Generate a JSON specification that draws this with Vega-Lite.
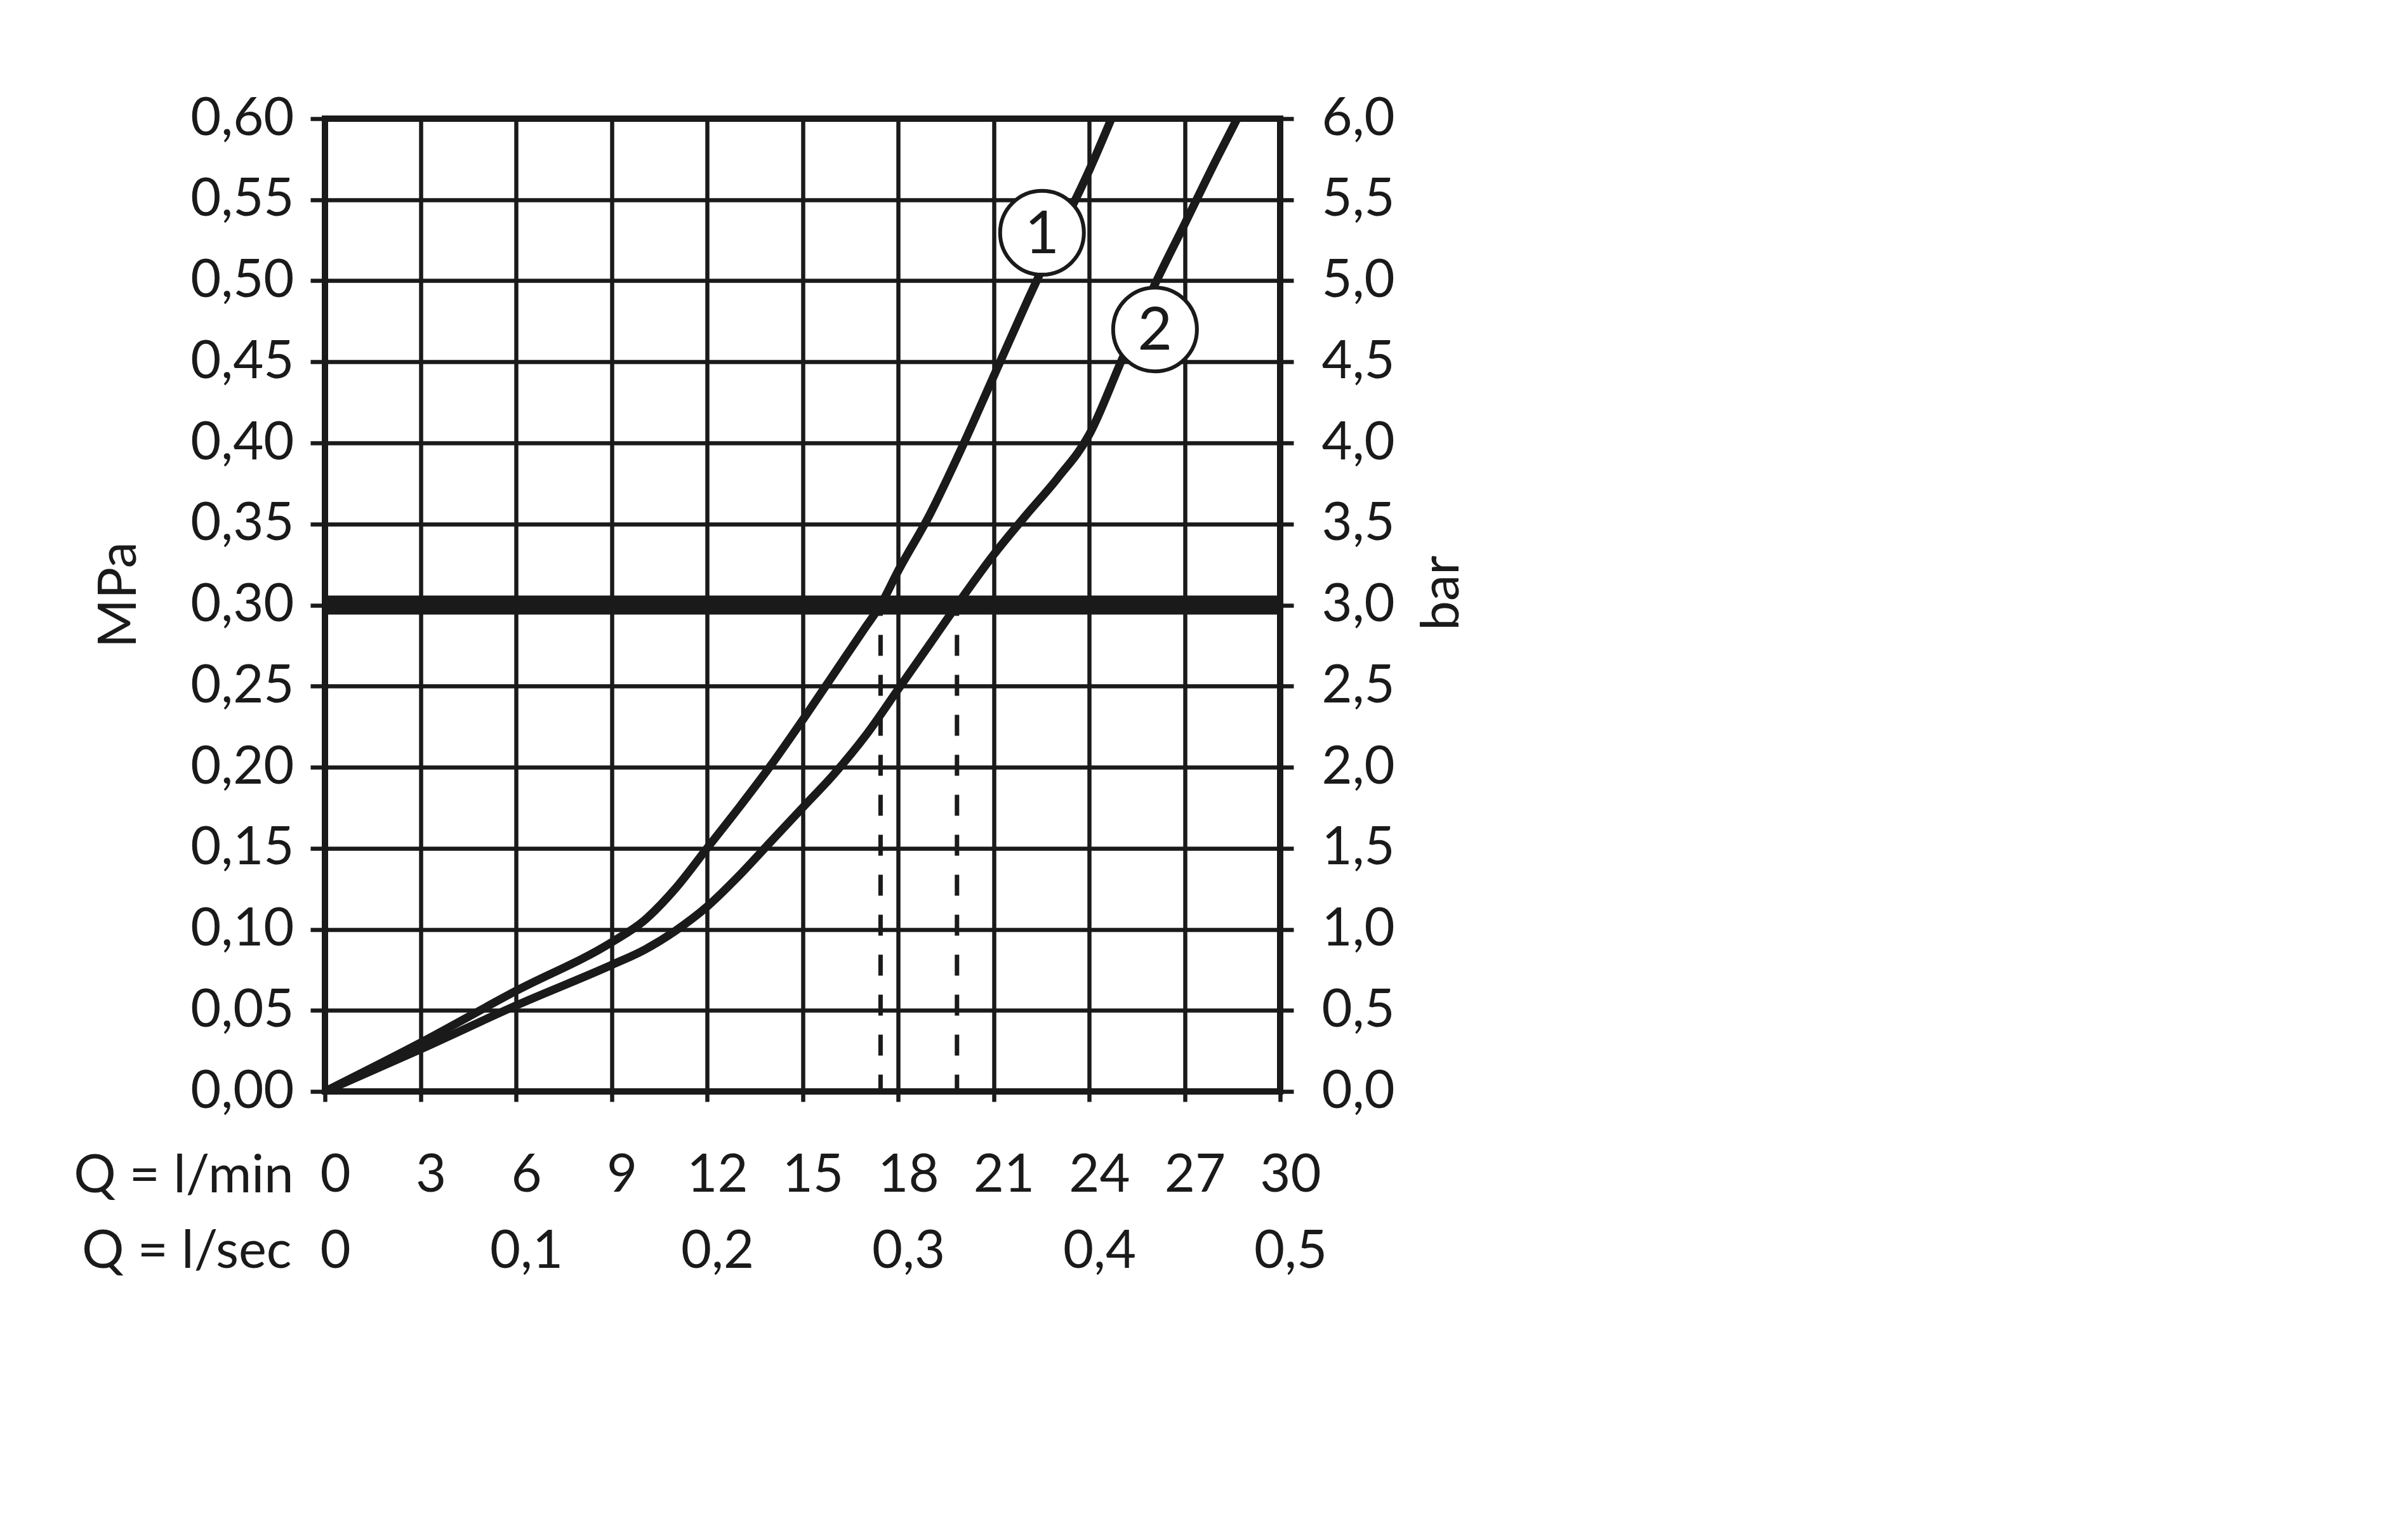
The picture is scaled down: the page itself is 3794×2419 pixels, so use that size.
{
  "$schema": "https://vega.github.io/schema/vega-lite/v6.json",
  "width": 1505,
  "height": 1533,
  "autosize": "none",
  "padding": {"left": 512, "top": 187, "right": 1777, "bottom": 699},
  "background": "white",
  "config": {
    "view": {"stroke": "#1a1a1a", "strokeWidth": 10},
    "font": "Lato",
    "axis": {
      "labelFont": "Lato", "labelFontSize": 83, "labelColor": "#1a1a1a",
      "titleFont": "Lato", "titleFontSize": 83, "titleFontWeight": "normal", "titleColor": "#1a1a1a",
      "domain": false, "tickColor": "#1a1a1a", "tickWidth": 6.5,
      "gridColor": "#1a1a1a", "gridWidth": 6.5, "gridOpacity": 1,
      "labelFlush": false, "labelOverlap": false
    }
  },
  "datasets": {
    "curves": [
      {"curve": "1", "q": 0, "p": 0},
      {"curve": "1", "q": 3, "p": 0.030},
      {"curve": "1", "q": 6, "p": 0.062},
      {"curve": "1", "q": 9, "p": 0.092},
      {"curve": "1", "q": 10, "p": 0.105},
      {"curve": "1", "q": 11, "p": 0.125},
      {"curve": "1", "q": 12, "p": 0.150},
      {"curve": "1", "q": 13, "p": 0.175},
      {"curve": "1", "q": 14, "p": 0.201},
      {"curve": "1", "q": 15, "p": 0.229},
      {"curve": "1", "q": 16, "p": 0.258},
      {"curve": "1", "q": 17, "p": 0.287},
      {"curve": "1", "q": 17.45, "p": 0.300},
      {"curve": "1", "q": 18, "p": 0.321},
      {"curve": "1", "q": 19, "p": 0.356},
      {"curve": "1", "q": 20, "p": 0.397},
      {"curve": "1", "q": 21, "p": 0.441},
      {"curve": "1", "q": 22, "p": 0.485},
      {"curve": "1", "q": 23, "p": 0.527},
      {"curve": "1", "q": 24, "p": 0.568},
      {"curve": "1", "q": 24.7, "p": 0.600},
      {"curve": "2", "q": 0, "p": 0},
      {"curve": "2", "q": 3, "p": 0.026},
      {"curve": "2", "q": 6, "p": 0.053},
      {"curve": "2", "q": 9, "p": 0.078},
      {"curve": "2", "q": 10, "p": 0.087},
      {"curve": "2", "q": 11, "p": 0.099},
      {"curve": "2", "q": 12, "p": 0.114},
      {"curve": "2", "q": 13, "p": 0.133},
      {"curve": "2", "q": 14, "p": 0.154},
      {"curve": "2", "q": 15, "p": 0.175},
      {"curve": "2", "q": 16, "p": 0.196},
      {"curve": "2", "q": 17, "p": 0.220},
      {"curve": "2", "q": 18, "p": 0.248},
      {"curve": "2", "q": 19, "p": 0.276},
      {"curve": "2", "q": 19.85, "p": 0.300},
      {"curve": "2", "q": 21, "p": 0.331},
      {"curve": "2", "q": 22, "p": 0.355},
      {"curve": "2", "q": 23, "p": 0.378},
      {"curve": "2", "q": 24, "p": 0.405},
      {"curve": "2", "q": 25, "p": 0.450},
      {"curve": "2", "q": 26, "p": 0.495},
      {"curve": "2", "q": 27, "p": 0.535},
      {"curve": "2", "q": 28, "p": 0.575},
      {"curve": "2", "q": 28.65, "p": 0.600}
    ],
    "limit": [{"q0": 0, "q1": 30, "p": 0.30}],
    "drops": [
      {"q": 17.45, "top": 0.30, "bottom": 0},
      {"q": 19.85, "top": 0.30, "bottom": 0}
    ],
    "labels": [
      {"q": 22.52, "p": 0.5296, "label": "1"},
      {"q": 26.07, "p": 0.470, "label": "2"}
    ]
  },
  "layer": [
    {
      "data": {"name": "curves"},
      "mark": {"type": "line", "stroke": "#1a1a1a", "strokeWidth": 13, "interpolate": "monotone", "clip": true},
      "encoding": {
        "x": {
          "field": "q", "type": "quantitative",
          "scale": {"domain": [0, 30], "nice": false, "zero": false},
          "axis": {
            "orient": "bottom", "title": "Q = l/min",
            "values": [0, 3, 6, 9, 12, 15, 18, 21, 24, 27, 30],
            "grid": true, "tickSize": 16, "labelPadding": 141,
            "labelBaseline": "alphabetic", "labelOffset": 16,
            "titleX": -50, "titleY": 158, "titleAlign": "right", "titleBaseline": "alphabetic", "titleAngle": 0
          }
        },
        "y": {
          "field": "p", "type": "quantitative",
          "scale": {"domain": [0, 0.6], "nice": false, "zero": false},
          "axis": {
            "orient": "left", "title": "MPa",
            "values": [0, 0.05, 0.1, 0.15, 0.2, 0.25, 0.3, 0.35, 0.4, 0.45, 0.5, 0.55, 0.6],
            "grid": true, "tickSize": 23, "labelPadding": 26,
            "labelExpr": "replace(format(datum.value, '.2f'), '.', ',')",
            "labelBaseline": "middle", "labelAlign": "right",
            "titleAngle": 270, "titleX": -299, "titleY": 750, "titleAlign": "center", "titleBaseline": "alphabetic"
          }
        },
        "detail": {"field": "curve"}
      }
    },
    {
      "data": {"name": "limit"},
      "mark": {"type": "rule", "stroke": "#1a1a1a", "strokeWidth": 30, "strokeCap": "butt"},
      "encoding": {
        "x": {
          "field": "q0", "type": "quantitative",
          "axis": {
            "orient": "bottom", "title": "Q = l/sec",
            "values": [0, 6, 12, 18, 24, 30],
            "grid": false, "ticks": false, "tickSize": 0, "labelPadding": 277,
            "labelBaseline": "alphabetic", "labelOffset": 16,
            "labelExpr": "datum.value == 0 ? '0' : replace(format(datum.value / 60, '.1f'), '.', ',')",
            "titleX": -53, "titleY": 277, "titleAlign": "right", "titleBaseline": "alphabetic", "titleAngle": 0
          }
        },
        "x2": {"field": "q1"},
        "y": {
          "field": "p", "type": "quantitative",
          "axis": {
            "orient": "right", "title": "bar",
            "values": [0, 0.05, 0.1, 0.15, 0.2, 0.25, 0.3, 0.35, 0.4, 0.45, 0.5, 0.55, 0.6],
            "grid": false, "tickSize": 21, "labelPadding": 44,
            "labelExpr": "replace(format(datum.value * 10, '.1f'), '.', ',')",
            "labelBaseline": "middle", "labelAlign": "left",
            "titleAngle": 270, "titleX": 280, "titleY": 747, "titleAlign": "center", "titleBaseline": "alphabetic"
          }
        }
      }
    },
    {
      "data": {"name": "drops"},
      "mark": {"type": "rule", "stroke": "#1a1a1a", "strokeWidth": 7, "strokeDash": [33, 30], "strokeDashOffset": 16, "strokeCap": "butt"},
      "encoding": {
        "x": {"field": "q", "type": "quantitative", "axis": null},
        "y": {"field": "top", "type": "quantitative", "axis": null},
        "y2": {"field": "bottom"}
      }
    },
    {
      "data": {"name": "labels"},
      "mark": {"type": "point", "shape": "circle", "size": 17424, "filled": true, "fill": "white", "stroke": "#1a1a1a", "strokeWidth": 6, "opacity": 1},
      "encoding": {
        "x": {"field": "q", "type": "quantitative", "axis": null},
        "y": {"field": "p", "type": "quantitative", "axis": null}
      }
    },
    {
      "data": {"name": "labels"},
      "mark": {"type": "text", "font": "Lato", "fontSize": 94, "color": "#1a1a1a", "align": "center", "baseline": "middle", "dy": 4},
      "encoding": {
        "x": {"field": "q", "type": "quantitative", "axis": null},
        "y": {"field": "p", "type": "quantitative", "axis": null},
        "text": {"field": "label"}
      }
    }
  ],
  "resolve": {"axis": {"x": "independent", "y": "independent"}}
}
